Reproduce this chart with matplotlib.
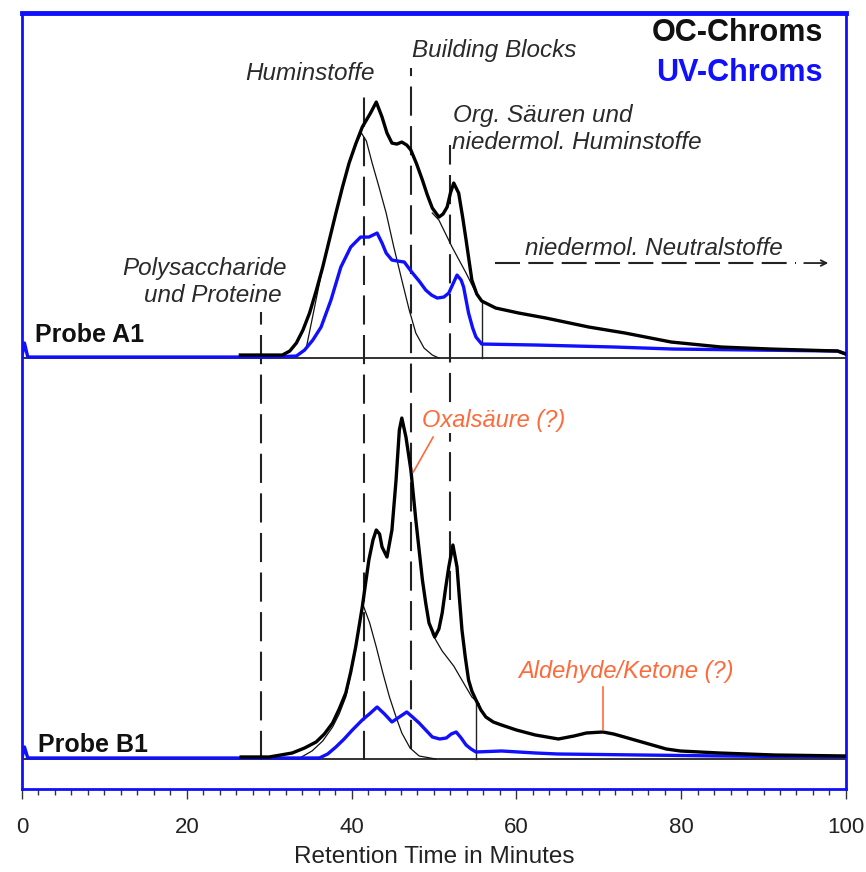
import matplotlib
matplotlib.use("Agg")
import matplotlib.pyplot as plt

plt.rcParams['font.family'] = ['Liberation Sans', 'DejaVu Sans']

# ---------------- data (signal heights above each trace baseline) ----------------
baseline_A1 = 431
baseline_B1 = 30

a1_oc_x = [26.5, 30.0, 31.6, 32.5, 33.3, 34.1, 34.9, 35.7, 36.5, 37.3, 38.1, 38.9, 39.7, 40.5,
           41.3, 42.3, 43.0, 43.7, 44.3, 44.9, 45.5, 46.1, 46.7, 47.2, 47.9, 48.6, 49.2, 49.8,
           50.6, 51.1, 51.6, 52.0, 52.4, 53.0, 53.5, 53.9, 54.6, 55.2, 55.8, 57.5, 60.3, 63.6,
           68.8, 73.2, 78.8, 84.9, 90.9, 99.0, 100.0]
a1_oc_h = [3, 3, 3, 7, 15, 28, 45, 67, 91, 118, 145, 171, 195, 214,
           231, 245, 256, 241, 225, 215, 214, 216, 213, 208, 194, 178, 163, 150,
           141, 144, 151, 165, 175, 165, 140, 118, 78, 64, 57, 50, 45, 40,
           31, 25, 16, 11, 9, 7, 4]

a1_uv_x = [0.0, 0.3, 0.7, 5, 20, 30, 33.3, 34.3, 35.3, 36.3, 37.5, 38.7, 39.9, 41.1, 42.1,
           43.1, 43.7, 44.2, 44.9, 45.6, 46.4, 47.3, 48.2, 49.0, 49.7, 50.4, 51.2, 51.8, 52.3,
           52.8, 53.3, 53.6, 54.2, 54.7, 55.1, 55.8, 62.5, 72, 79, 99, 100]
a1_uv_h = [2, 15, 1, 1, 1, 1, 2, 8, 18, 31, 58, 91, 111, 121, 121,
           125, 115, 105, 98, 97, 96, 86, 77, 68, 63, 60, 61, 65, 74,
           83, 78, 71, 45, 30, 21, 14, 13, 11, 9, 7, 4]

a1_fit1_x = [34.5, 36.5, 38.1, 39.7, 40.6, 41.2, 41.8, 42.5, 43.3, 44.2, 45.1, 46.1, 47.0, 47.8,
             48.8, 49.8, 50.6]
a1_fit1_h = [10, 91, 145, 195, 215, 225, 217, 195, 172, 145, 112, 78, 48, 25, 10, 3, 0]
a1_fit2_x = [49.8, 50.6, 52.2, 53.9, 55.1, 55.8]
a1_fit2_h = [145, 138, 111, 85, 65, 57]

b1_oc_x = [26.6, 30, 32.8, 34.3, 35.7, 36.7, 37.7, 38.5, 39.3, 39.9, 40.5, 41.3, 42.1, 42.6,
           43.0, 43.4, 43.7, 44.3, 44.9, 45.4, 45.8, 46.1, 46.6, 47.2, 47.8, 48.2, 48.6, 49.0,
           49.4, 50.1, 50.6, 51.0, 51.4, 51.8, 52.3, 52.8, 53.1, 53.4, 53.8, 54.2, 54.6, 55.1,
           55.7, 56.3, 57.2, 58.2, 60.0, 62.3, 65.1, 67.0, 68.5, 70.5, 71.8, 73.1, 74.8, 76.5,
           78.2, 79.9, 84.6, 91.3, 100]
b1_oc_h = [2, 2, 6, 11, 17, 25, 36, 50, 66, 87, 112, 152, 199, 219,
           229, 225, 212, 202, 229, 279, 329, 341, 322, 289, 239, 209, 179, 156,
           136, 122, 130, 146, 170, 192, 214, 192, 160, 129, 102, 79, 68, 59,
           49, 42, 37, 34, 29, 24, 20, 23, 26, 27, 25, 22, 18, 14,
           10, 8, 6, 4, 3]

b1_uv_x = [0.0, 0.3, 0.7, 10, 30, 36.1, 37.1, 38.1, 39.1, 40.1, 41.3, 42.3, 43.1, 44.0,
           44.9, 45.8, 46.7, 47.4, 48.2, 49.0, 49.8, 50.7, 51.5, 52.1, 52.7, 53.3, 53.9, 54.5,
           55.1, 58.2, 62.3, 65, 75, 85, 100]
b1_uv_h = [1, 12, 1, 1, 1, 1, 5, 12, 20, 29, 39, 46, 52, 45,
           37, 42, 47, 42, 36, 29, 22, 20, 21, 25, 27, 21, 14, 10,
           7, 8, 6, 5, 4, 3, 2]

b1_fit1_x = [33.5, 35.2, 36.5, 37.7, 38.5, 39.3, 39.9, 40.5, 41.0, 41.4, 42.2, 43.0, 43.8,
             44.6, 45.4, 46.1, 47.1, 48.2, 50.2]
b1_fit1_h = [0, 8, 18, 32, 45, 62, 85, 110, 138, 154, 136, 112, 86, 62, 42, 26, 11, 3, 0]
b1_fit2_x = [49.8, 51.0, 52.4, 53.6, 54.6, 55.5]
b1_fit2_h = [125, 108, 93, 76, 62, 55]

# fraction boundaries (dashed), x position, top, bottom
div_x = [29.0, 41.5, 47.2, 52.0]
div_top = [477, 695, 721, 644]
div_bot = [29, 29, 40, 189]
# solid cut-off markers
cut_A1_x, cut_A1_h = 55.8, 57
cut_B1_x, cut_B1_h = 55.1, 59

xticks = [0, 20, 40, 60, 80, 100]

# ---------------- figure ----------------
fig = plt.figure(figsize=(8.66, 8.72), dpi=100)
ax = fig.add_axes([0.0254, 0.0952, 0.9514, 0.8898])
ax.set_xlim(0, 100)
ax.set_ylim(0, 776)

blue = '#1010ff'
txtc = '#2a2a2a'
orange = '#ff6a3a'

def up(h, base):
    return [v + base for v in h]

# baselines
ax.axhline(baseline_A1, color='#222222', lw=1.3, zorder=2)
ax.axhline(baseline_B1, color='#222222', lw=1.3, zorder=2)

# dashed fraction lines
for xv, t, b in zip(div_x, div_top, div_bot):
    ax.plot([xv, xv], [b, t], color='#222222', lw=1.5, ls=(0, (14, 5)), zorder=2)

ax.plot([cut_A1_x, cut_A1_x], [baseline_A1, baseline_A1 + cut_A1_h], color='#222222', lw=1.0, zorder=2)
ax.plot([cut_B1_x, cut_B1_x], [baseline_B1, baseline_B1 + cut_B1_h], color='#222222', lw=1.0, zorder=2)

# fitted thin curves
for xs, hs, base in [(a1_fit1_x, a1_fit1_h, baseline_A1), (a1_fit2_x, a1_fit2_h, baseline_A1),
                     (b1_fit1_x, b1_fit1_h, baseline_B1), (b1_fit2_x, b1_fit2_h, baseline_B1)]:
    ax.plot(xs, up(hs, base), color='#111111', lw=0.9, zorder=3)

# chromatograms
ax.plot(a1_uv_x, up(a1_uv_h, baseline_A1), color=blue, lw=2.4, zorder=4)
ax.plot(a1_oc_x, up(a1_oc_h, baseline_A1), color='#000000', lw=2.4, zorder=5)
ax.plot(b1_uv_x, up(b1_uv_h, baseline_B1), color=blue, lw=2.4, zorder=4)
ax.plot(b1_oc_x, up(b1_oc_h, baseline_B1), color='#000000', lw=2.4, zorder=5)

# legend-like labels
ax.text(97.2, 756, 'OC-Chroms', ha='right', va='center', fontsize=22, fontweight='bold', color='#111111')
ax.text(97.2, 716, 'UV-Chroms', ha='right', va='center', fontsize=22, fontweight='bold', color=blue)

it = dict(style='italic', fontsize=17.5, color=txtc, va='center')
ax.text(47.3, 739, 'Building Blocks', ha='left', **it)
ax.text(27.1, 716, 'Huminstoffe', ha='left', **it)
ax.text(52.3, 674, 'Org. Säuren und', ha='left', **it)
ax.text(52.2, 647, 'niedermol. Huminstoffe', ha='left', **it)
ax.text(61.0, 541, 'niedermol. Neutralstoffe', ha='left', **it)
ax.text(22.2, 521, 'Polysaccharide', ha='center', **it)
ax.text(23.2, 494, 'und Proteine', ha='center', **it)

ax.plot([57.4, 94.0], [526, 526], color='#222222', lw=1.5, ls=(0, (12, 4)), zorder=2)
ax.annotate('', xy=(98.2, 526), xytext=(94.6, 526),
            arrowprops=dict(arrowstyle='->', color='#222222', lw=1.3))

ax.text(1.6, 454, 'Probe A1', ha='left', va='center', fontsize=18, fontweight='bold', color='#111111')
ax.text(1.9, 44, 'Probe B1', ha='left', va='center', fontsize=18, fontweight='bold', color='#111111')

ax.text(48.5, 369, 'Oxalsäure (?)', ha='left', va='center', style='italic', fontsize=17,
        color=orange, zorder=6, bbox=dict(facecolor='white', edgecolor='none', pad=1))
ax.plot([49.9, 47.5], [352, 317], color=orange, lw=1.2, zorder=6)
ax.text(60.2, 117, 'Aldehyde/Ketone (?)', ha='left', va='center', style='italic', fontsize=17,
        color=orange, zorder=6)
ax.plot([70.5, 70.5], [102, 59], color=orange, lw=1.2, zorder=6)

# axes styling
for s in ['left', 'right', 'bottom']:
    ax.spines[s].set_color(blue)
    ax.spines[s].set_linewidth(2.0)
ax.spines['top'].set_color(blue)
ax.spines['top'].set_linewidth(3.5)
ax.set_yticks([])
ax.set_xticks(xticks)
ax.set_xticks(range(0, 101, 2), minor=True)
ax.tick_params(axis='x', which='major', length=7, width=1.0, color='#333333',
               labelsize=16, labelcolor='#222222', pad=13)
ax.tick_params(axis='x', which='minor', length=4, width=1.0, color='#333333')
ax.set_xlabel('Retention Time in Minutes', fontsize=17.5, color='#222222', labelpad=6)

fig.savefig('out.png', dpi=100)
